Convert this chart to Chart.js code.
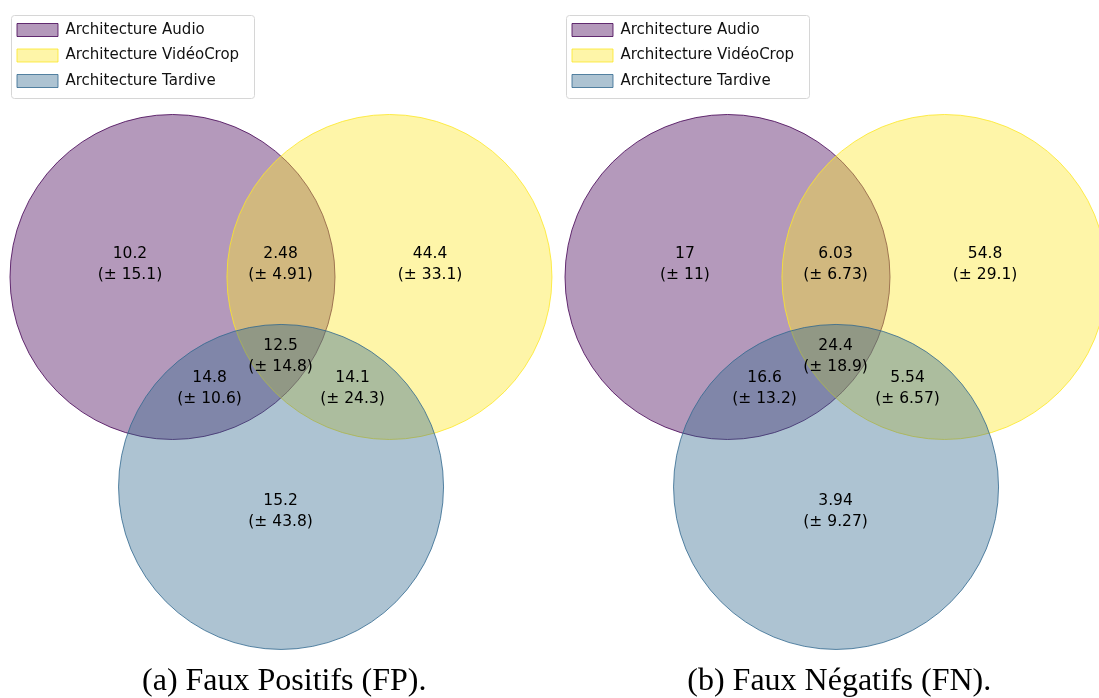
<!DOCTYPE html>
<html>
<head>
<meta charset="utf-8">
<script src="https://cdn.jsdelivr.net/npm/chart.js@4.4.0/dist/chart.umd.min.js"></script>
<style>
    html, body { margin: 0; padding: 0; background: #fff; overflow: hidden; width: 1099px; height: 698px; }
    .panel { position: absolute; top: 0; width: 562px; height: 698px; }
</style>
</head>
<body>
<div class="panel" style="left:0"><canvas id="fpChart" width="562" height="698"></canvas></div>
<div class="panel" style="left:555px"><canvas id="fnChart" width="562" height="698"></canvas></div>
<script>
// ========================================
// DONNEES
// ========================================
const setNames = ["Architecture Audio", "Architecture VidéoCrop", "Architecture Tardive"];

// centres des cercles (unite = rayon)
const circleX = [0, 1.335, 0.668];
const circleY = [0, 0, -1.292];
const circleR = 1;

// regions : A, B, AB, C, AC, BC, ABC
const labelX = [-0.262, 1.585, 0.665, 0.665, 0.228, 1.108, 0.665];
const labelY = [0.077, 0.077, 0.077, -1.443, -0.683, -0.683, -0.492];

const fpMeans = ["10.2", "44.4", "2.48", "15.2", "14.8", "14.1", "12.5"];
const fpStds  = ["15.1", "33.1", "4.91", "43.8", "10.6", "24.3", "14.8"];

const fnMeans = ["17", "54.8", "6.03", "3.94", "16.6", "5.54", "24.4"];
const fnStds  = ["11", "29.1", "6.73", "9.27", "13.2", "6.57", "18.9"];

const captions = ["(a) Faux Positifs (FP).", "(b) Faux Négatifs (FN)."];

// ========================================
// STYLES
// ========================================
const fills   = ["rgba(68,1,84,0.4)", "rgba(253,231,37,0.4)", "rgba(49,104,142,0.4)"];
const borders = ["rgba(68,1,84,0.8)", "rgba(253,231,37,0.8)", "rgba(49,104,142,0.8)"];

// rayon en pixels via l'echelle x
function radiusPx(ctx) {
    const s = ctx.chart.scales && ctx.chart.scales.x;
    if (!s) return 0;
    const r = Math.abs(s.getPixelForValue(circleR) - s.getPixelForValue(0));
    return isFinite(r) ? r : 0;
}

// textes des regions
const regionLabels = {
    id: "regionLabels",
    afterDatasetsDraw(chart, args, opts) {
        const { ctx, scales: { x, y } } = chart;
        ctx.save();
        ctx.font = "15.5px 'DejaVu Sans'";
        ctx.fillStyle = "#000";
        ctx.textAlign = "center";
        ctx.textBaseline = "middle";
        for (let i = 0; i < labelX.length; i++) {
            const px = x.getPixelForValue(labelX[i]);
            const py = y.getPixelForValue(labelY[i]);
            ctx.fillText(opts.means[i], px, py - 10.5);
            ctx.fillText("(\u00b1 " + opts.stds[i] + ")", px, py + 10.5);
        }
        ctx.restore();
    }
};

// cadre de la legende
const legendFrame = {
    id: "legendFrame",
    afterDraw(chart) {
        const hb = chart.legend && chart.legend.legendHitBoxes;
        if (!hb || !hb.length) return;
        const ctx = chart.ctx;
        const left = hb[0].left - 6.5;
        const top = hb[0].top - 7.5;
        const right = Math.max(...hb.map(h => h.left + h.width)) + 14;
        const last = hb[hb.length - 1];
        const bottom = last.top + last.height + 9.5;
        ctx.save();
        ctx.strokeStyle = "#d6d6d6";
        ctx.lineWidth = 1;
        ctx.beginPath();
        ctx.roundRect(Math.round(left) + 0.5, Math.round(top) + 0.5, Math.round(right - left), Math.round(bottom - top), 3);
        ctx.stroke();
        ctx.restore();
    }
};

function makeVenn(canvasId, caption, means, stds) {
    const datasets = setNames.map((name, i) => ({
        label: name,
        data: [{ x: circleX[i], y: circleY[i] }],
        order: 3 - i,
        backgroundColor: fills[i],
        pointBackgroundColor: fills[i],
        borderColor: borders[i],
        pointBorderColor: borders[i],
        borderWidth: 1,
        pointBorderWidth: 1,
        pointRadius: radiusPx,
        pointHoverRadius: radiusPx,
        clip: false
    }));

    new Chart(document.getElementById(canvasId), {
        type: "scatter",
        data: { datasets },
        options: {
            responsive: false,
            animation: false,
            events: [],
            layout: { padding: { left: 6.5, top: 11, right: 0, bottom: 0 } },
            scales: {
                x: { type: "linear", display: false, bounds: "data", min: -1.02154, max: 2.39692 },
                y: { type: "linear", display: false, bounds: "data", min: -2.32985, max: 1.63692 }
            },
            plugins: {
                tooltip: { enabled: false },
                legend: {
                    position: "chartArea",
                    align: "start",
                    // titre vide pour decaler la legende vers le bas
                    title: { display: true, text: " ", font: { size: 1, lineHeight: 1 }, padding: { top: 11, bottom: 0 } },
                    labels: {
                        boxWidth: 41,
                        boxHeight: 13,
                        padding: 10.5,
                        color: "#111",
                        font: { family: "'DejaVu Sans'", size: 15 },
                        sort: (a, b) => a.datasetIndex - b.datasetIndex
                    }
                },
                title: {
                    display: true,
                    position: "bottom",
                    text: caption,
                    color: "#000",
                    font: { family: "'Liberation Serif'", size: 32, weight: "normal", lineHeight: 1.0 },
                    padding: { top: 10.4, bottom: 0 }
                },
                regionLabels: { means, stds }
            }
        },
        plugins: [regionLabels, legendFrame]
    });
}

makeVenn("fpChart", captions[0], fpMeans, fpStds);
makeVenn("fnChart", captions[1], fnMeans, fnStds);
</script>
</body>
</html>
